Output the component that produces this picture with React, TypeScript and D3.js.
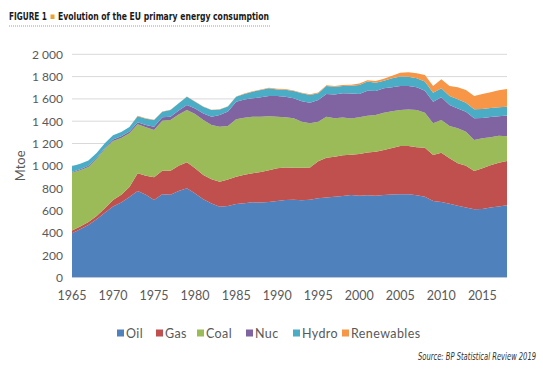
import React, { useLayoutEffect, useRef } from "react";
import * as d3 from "d3";

const years: number[] = d3.range(1965, 2019);
const oil = [395,430,470,520,580,635,670,720,774,740,693,744,740,775,798,752,700,663,633,640,657,665,672,670,675,685,693,695,690,695,708,715,723,730,738,732,735,732,738,742,744,745,735,723,684,675,660,642,625,610,612,625,635,646];
const gas = [25,25,25,30,40,58,70,90,159,170,204,212,216,225,233,225,217,216,224,238,245,255,261,275,285,293,292,288,293,290,332,358,359,365,362,374,385,395,404,418,434,433,431,440,413,443,407,380,375,343,365,381,392,396];
const coal = [518,505,495,510,530,529,510,481,439,435,424,449,455,460,469,487,493,487,494,479,515,510,507,495,485,462,450,443,412,396,356,368,344,338,325,329,330,328,334,330,322,328,334,313,284,293,290,314,306,278,269,249,243,222];
const nuc = [7,8,10,10,10,13,15,17,18,20,30,30,29,35,45,51,60,74,104,130,158,165,165,175,181,185,185,179,185,185,194,203,214,217,223,209,224,215,219,215,216,210,205,198,194,203,188,179,179,195,182,183,175,187];
const hydro = [52,50,48,45,42,38,38,40,55,58,60,50,60,65,75,60,60,60,51,45,45,50,60,65,69,60,62,65,70,69,60,72,68,66,70,81,81,75,67,80,84,82,80,81,81,81,81,81,81,81,82,80,80,78];
const renewables = [0,0,0,0,0,0,0,1,3,3,2,2,2,2,2,2,2,2,2,2,2,3,3,4,5,5,6,6,6,6,7,7,8,9,10,12,13,15,18,23,35,40,45,59,60,81,90,108,114,119,135,142,153,160];

const seriesNames = ["Oil", "Gas", "Coal", "Nuc", "Hydro", "Renewables"];
const seriesColors = ["#4F81BD", "#C0504D", "#9BBB59", "#8064A2", "#4BACC6", "#F79646"];
const yTicks = [0, 200, 400, 600, 800, 1000, 1200, 1400, 1600, 1800, 2000];
const xTicks = [1965, 1970, 1975, 1980, 1985, 1990, 1995, 2000, 2005, 2010, 2015];
const legendX = [117, 156, 197, 246, 293, 342];

function FitText(props: { x: number; y: number; width: number; size: number; children: string; [k: string]: any }) {
  const { x, y, width, size, children, ...rest } = props;
  const ref = useRef<SVGTextElement>(null);
  useLayoutEffect(() => {
    const el = ref.current;
    if (!el) return;
    el.setAttribute("font-size", String(size));
    const len = el.getComputedTextLength();
    if (len > 0) el.setAttribute("font-size", String((size * width) / len));
  }, [size, width, children]);
  return (
    <text ref={ref} x={x} y={y} fontSize={size} {...rest}>
      {children}
    </text>
  );
}

export default function App() {
  const W = 543, H = 372;
  const x = d3.scaleLinear().domain([1965, 2018]).range([72, 507]);
  const y = d3.scaleLinear().domain([0, 2000]).range([277.3, 54.3]);
  const arrays = [oil, gas, coal, nuc, hydro, renewables];
  const rows = years.map((yr, i) => {
    const r: any = { year: yr };
    seriesNames.forEach((k, j) => (r[k] = arrays[j][i]));
    return r;
  });
  const stack = d3.stack<any>().keys(seriesNames)(rows);
  const area = d3
    .area<any>()
    .x((d) => x(d.data.year))
    .y0((d) => y(d[0]))
    .y1((d) => y(d[1]));
  const fmt = (v: number) => (v >= 1000 ? `${Math.floor(v / 1000)} ${String(v % 1000).padStart(3, "0")}` : String(v));
  const font = "Lato, 'Open Sans', sans-serif";
  const narrow = "'Liberation Sans Narrow', 'DejaVu Sans Condensed', sans-serif";

  return (
    <svg width={W} height={H} style={{ position: "absolute", left: 0, top: 0, background: "#fff" }}>
      <g transform="translate(0,20) scale(1,1.3) translate(0,-20)">
        <FitText x={9} y={20} width={38} size={12} fontFamily={narrow} fontWeight="bold" fill="#1a1a1a">FIGURE 1</FitText>
        <FitText x={58} y={20} width={211} size={12} fontFamily={narrow} fontWeight="bold" fill="#1a1a1a">Evolution of the EU primary energy consumption</FitText>
      </g>
      <rect x={50.5} y={14.5} width={4} height={4.5} fill="#F0A030" />
      <line x1={9} x2={270} y1={26} y2={26} stroke="#F5C890" strokeWidth={2} strokeDasharray="1,1" />

      {yTicks.map((t) => (
        <g key={t}>
          <line x1={72} x2={507} y1={y(t)} y2={y(t)} stroke="#D9D9D9" strokeWidth={1} />
          <text x={63} y={y(t) + 4.5} textAnchor="end" fontFamily={font} fontSize={12} fill="#595959">{fmt(t)}</text>
        </g>
      ))}
      {stack.map((s, i) => (
        <path key={s.key} d={area(s) || ""} fill={seriesColors[i]} />
      ))}
      {xTicks.map((t) => (
        <text key={t} x={x(t)} y={300} textAnchor="middle" fontFamily={font} fontSize={12.5} fill="#595959">{t}</text>
      ))}
      <text transform={`translate(25,${y(1000)}) rotate(-90)`} textAnchor="middle" fontFamily={font} fontSize={13} fill="#595959">Mtoe</text>

      {seriesNames.map((n, i) => (
        <g key={n}>
          <rect x={legendX[i]} y={329.5} width={7} height={7} fill={seriesColors[i]} />
          <text x={legendX[i] + 9} y={337.5} fontFamily={font} fontSize={12.5} letterSpacing={0.4} fill="#595959">{n}</text>
        </g>
      ))}
      <g transform="translate(0,360) scale(1,1.3) translate(0,-360)">
        <FitText x={418} y={360} width={118} size={10.5} fontFamily={narrow} fontStyle="italic" fill="#333">Source: BP Statistical Review 2019</FitText>
      </g>
    </svg>
  );
}
